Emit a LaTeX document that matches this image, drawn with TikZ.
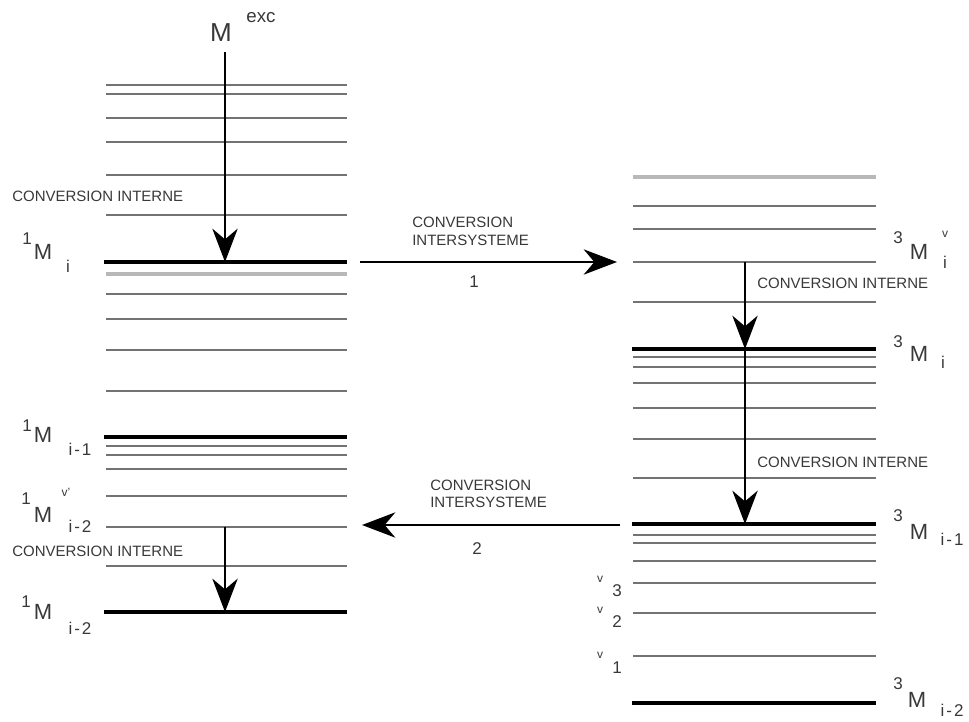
\documentclass[tikz,border=0pt]{standalone}
\usepackage{fontspec}
\setmainfont{Liberation Sans}
\usetikzlibrary{arrows.meta}
\begin{document}
\begin{tikzpicture}[x=0.75pt,y=-0.75pt,
  lvl/.style={line width=1.2pt, draw=black!55},
  thicklvl/.style={line width=2.6pt, draw=black},
  palelvl/.style={line width=3.4pt, draw=black!28},
  arr/.style={line width=1.5pt, draw=black, -{Stealth[length=25pt,width=19pt,inset=8pt]}},
  txt/.style={inner sep=0pt, text=black!78},
  ci/.style={txt, anchor=west, font=\fontsize{11.25}{12}\selectfont},
  bigM/.style={txt, font=\fontsize{19.5}{20}\selectfont},
  lvM/.style={txt, font=\fontsize{16.5}{17}\selectfont},
  sup/.style={txt, font=\fontsize{12.75}{13}\selectfont},
  tiny/.style={txt, font=\fontsize{9}{10}\selectfont}
]
\useasboundingbox (0,0) rectangle (969,721);

% ---------- left column (singlet) ----------
\foreach \y in {85,94,118,142,175,215,294,319,350,391,446,455,469,496,527,566}
  \draw[lvl] (106,\y) -- (347,\y);
\foreach \y in {262,437,612}
  \draw[thicklvl] (104,\y) -- (347,\y);
\draw[palelvl] (106,274) -- (347,274);

% ---------- right column (triplet) ----------
\foreach \y in {206,229,262,302,357,367,383,408,439,478,535,543,561,583,613,656}
  \draw[lvl] (633,\y) -- (876,\y);
\foreach \y in {349,524,703}
  \draw[thicklvl] (632,\y) -- (876,\y);
\draw[palelvl] (633,177) -- (876,177);

% ---------- arrow coordinates ----------
\coordinate (a1s) at (225,52);
\coordinate (a1e) at (225,262);
\coordinate (a2s) at (225,527);
\coordinate (a2e) at (225,612);
\coordinate (a3s) at (745,262);
\coordinate (a3e) at (745,349);
\coordinate (a4e) at (745,524);
\coordinate (h1s) at (360,262);
\coordinate (h1e) at (617,262);
\coordinate (h2s) at (620,525);
\coordinate (h2e) at (362,525);

\draw[arr] (a1s) -- (a1e);
\draw[arr] (a2s) -- (a2e);
\draw[arr] (a3s) -- (a3e);
\draw[arr] (a3e) -- (a4e);
\draw[arr] (h1s) -- (h1e);
\draw[arr] (h2s) -- (h2e);

% ---------- labels ----------
\node[bigM] (mexc) at (221,33) {M};
\node[sup, font=\fontsize{14}{15}\selectfont] (exc) at (261,18) {exc};

\node[ci] (ci1) at (12,196) {CONVERSION INTERNE};
\node[ci] (ci2) at (12,551) {CONVERSION INTERNE};
\node[ci] (ci3) at (757,283) {CONVERSION INTERNE};
\node[ci] (ci4) at (757,462) {CONVERSION INTERNE};

\node[ci] (cis1a) at (412,222) {CONVERSION};
\node[ci] (cis1b) at (412,240) {INTERSYSTEME};
\node[sup] (n1) at (474,282) {1};
\node[ci] (cis2a) at (430,485) {CONVERSION};
\node[ci] (cis2b) at (430,502) {INTERSYSTEME};
\node[sup] (n2) at (477,549) {2};

% singlet labels
\node[sup] (s1a) at (27,239) {1};
\node[lvM] (m1a) at (43,252) {M};
\node[sup] (i1a) at (68,266) {i};

\node[sup] (s1b) at (27,426) {1};
\node[lvM] (m1b) at (43,435) {M};
\node[sup] (i1b) at (80,449) {i\kern1.5pt-\kern1.5pt1};

\node[sup] (s1c) at (26,499) {1};
\node[lvM] (m1c) at (43,515) {M};
\node[tiny] (v1c) at (66,492) {v'};
\node[sup] (i1c) at (80,526) {i\kern1.5pt-\kern1.5pt2};

\node[sup] (s1d) at (26,602) {1};
\node[lvM] (m1d) at (43,612) {M};
\node[sup] (i1d) at (80,628) {i\kern1.5pt-\kern1.5pt2};

% triplet labels
\node[sup] (s3a) at (898,238) {3};
\node[lvM] (m3a) at (919,252) {M};
\node[tiny] (v3a) at (945,234) {v};
\node[sup] (i3a) at (945,262) {i};

\node[sup] (s3b) at (898,342) {3};
\node[lvM] (m3b) at (919,354) {M};
\node[sup] (i3b) at (943,362) {i};

\node[sup] (s3c) at (898,516) {3};
\node[lvM] (m3c) at (919,532) {M};
\node[sup] (i3c) at (952,539) {i\kern1.5pt-\kern1.5pt1};

\node[sup] (s3d) at (898,684) {3};
\node[lvM] (m3d) at (917,700) {M};
\node[sup] (i3d) at (952,710) {i\kern1.5pt-\kern1.5pt2};

% vibrational labels
\node[tiny] (vv3) at (600,579) {v};
\node[sup] (nv3) at (617,591) {3};
\node[tiny] (vv2) at (600,610) {v};
\node[sup] (nv2) at (617,622) {2};
\node[tiny] (vv1) at (600,655) {v};
\node[sup] (nv1) at (617,668) {1};
\end{tikzpicture}
\end{document}
